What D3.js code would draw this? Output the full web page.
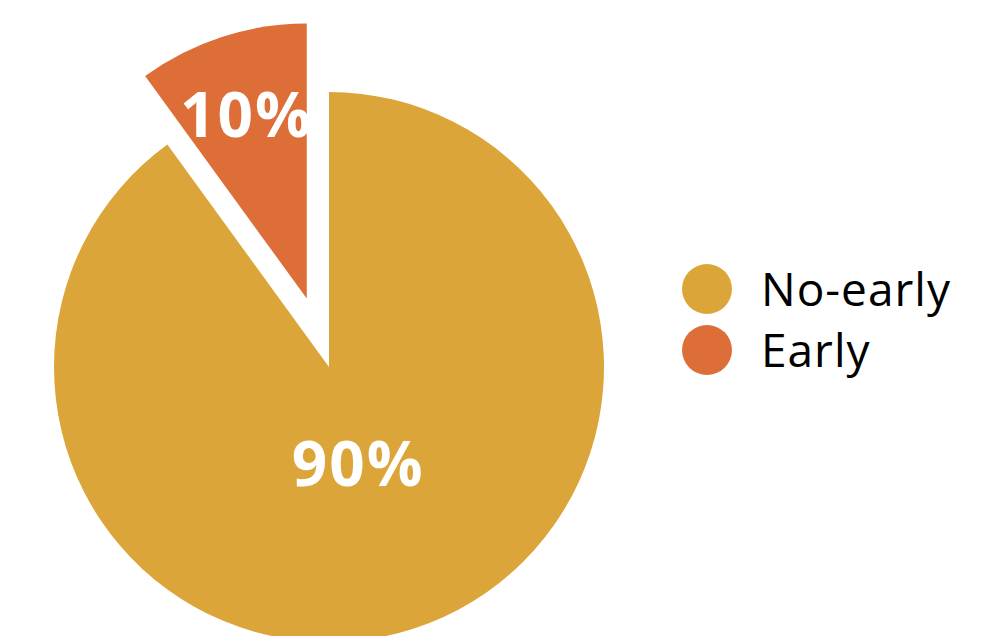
<!DOCTYPE html>
<html><head><meta charset="utf-8">
<script src="https://cdn.jsdelivr.net/npm/d3@7"></script>
<style>html,body{margin:0;padding:0;background:#fff;overflow:hidden}</style>
</head><body>
<svg id="chart" width="1000" height="636"></svg>
<script>
const categories = ["No-early", "Early"];
const values = [90, 10];
const labels = ["90%", "10%"];
const colors = ["#DCA53A", "#DD6E38"];

const svg = d3.select("#chart");
const cx = 329, cy = 367, R = 275, explode = 72;
const g = svg.append("g").attr("transform", `translate(${cx},${cy})`);

const pie = d3.pie().sort(null).startAngle(-0.2 * Math.PI).endAngle(1.8 * Math.PI)
  .value(d => d.v);
const data = categories.map((c, i) => ({c, v: values[i], label: labels[i], color: colors[i]}));
const arcs = pie([data[1], data[0]]);
const arc = d3.arc().innerRadius(0).outerRadius(R);

arcs.forEach(a => {
  const isEarly = a.data.c === "Early";
  const mid = (a.startAngle + a.endAngle) / 2;
  const off = isEarly ? d3.pointRadial(mid, explode) : [0, 0];
  const sg = g.append("g").attr("transform", `translate(${off[0]},${off[1]})`);
  sg.append("path").attr("d", arc(a)).attr("fill", a.data.color);
  const pos = isEarly ? d3.pointRadial(mid, 195) : d3.pointRadial(Math.PI * 0.905, 99);
  sg.append("text").attr("x", pos[0]).attr("y", pos[1])
    .attr("text-anchor", "middle").attr("dominant-baseline", "central")
    .attr("font-family", "Open Sans, sans-serif").attr("font-weight", "bold")
    .attr("font-size", 62).attr("letter-spacing", 2).attr("fill", "#fff").text(a.data.label);
});

const legend = svg.append("g").attr("transform", "translate(707,289)");
data.forEach((d, i) => {
  const row = legend.append("g").attr("transform", `translate(0,${i * 61})`);
  row.append("circle").attr("r", 25).attr("fill", d.color);
  row.append("text").attr("x", 54).attr("y", 17)
    .attr("font-family", "Open Sans, sans-serif").attr("font-size", 46)
    .attr("letter-spacing", 1).attr("fill", "#000").text(d.c);
});
</script>
</body></html>
